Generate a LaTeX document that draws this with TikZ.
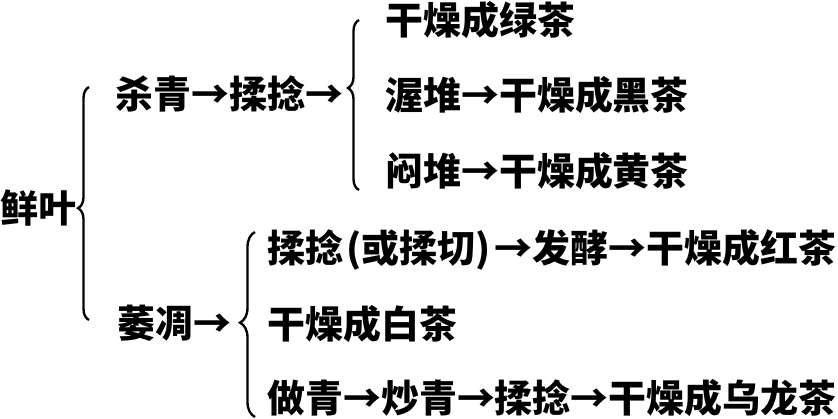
\documentclass[tikz,border=0pt]{standalone}
\usepackage{fontspec}
\newfontfamily\cjk{Noto Sans CJK SC}
\usetikzlibrary{decorations.pathreplacing}
\tikzset{
  tea/.style={anchor=base west, inner sep=0pt, font=\cjk\bfseries\fontsize{32.4}{32.4}\selectfont},
  curly/.style 2 args={decorate, decoration={brace, amplitude=#1, aspect=#2}, line width=2pt},
}
\begin{document}
\begin{tikzpicture}[x=0.03cm, y=-0.03cm]
		\useasboundingbox (0,0) rectangle (838,419);
		
		%Fresh leaf
		\node (leaf) at (0,222) [tea]{鲜叶};
		
		%First branch
		\node (shaqing) at (115,108) [tea]{杀青→揉捻→};
		\node (green) at (385,34) [tea]{干燥成绿茶};
		\node (dark) at (385,109) [tea]{渥堆→干燥成黑茶};
		\node (yellow) at (385,185) [tea]{闷堆→干燥成黄茶};
		
		%Second branch
		\node (weidiao) at (117,337) [tea]{萎凋→};
		\node (black) at (267,262) [tea]{揉捻\kern3pt(或揉切)\kern3pt→发酵→干燥成红茶};
		\node (white) at (267,338) [tea]{干燥成白茶};
		\node (oolong) at (267,412) [tea]{做青→炒青→揉捻→干燥成乌龙茶};
		
		%Brace ends
		\coordinate (leafbot) at (89,320);
		\coordinate (leaftop) at (89,87);
		\coordinate (shaqingbot) at (359,190);
		\coordinate (shaqingtop) at (359,20);
		\coordinate (weidiaobot) at (255,417);
		\coordinate (weidiaotop) at (255,232);
		
		%Braces
		\draw[curly={0.33cm}{0.48}] (leafbot) -- (leaftop);
		\draw[curly={0.33cm}{0.6}] (shaqingbot) -- (shaqingtop);
		\draw[curly={0.45cm}{0.51}] (weidiaobot) -- (weidiaotop);
		
\end{tikzpicture}
\end{document}
